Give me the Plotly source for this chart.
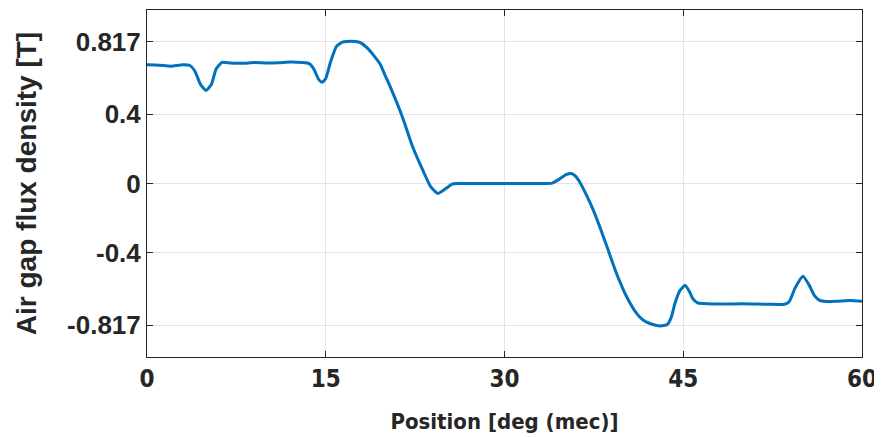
import plotly.graph_objects as go

position = [0, 1, 2, 3, 3.6, 4.0, 4.5, 4.95, 5.4, 5.8, 6.3, 7, 8, 9, 10, 11, 12, 13, 13.6, 14.0,
            14.4, 14.7, 15.0, 15.4, 15.9, 16.4, 16.8, 17.5, 17.9, 18.5, 19.0, 19.55, 20.0, 20.4,
            21.0, 21.5, 22.3, 23.2, 23.8, 24.4, 25.1, 25.6, 26.0, 27, 28, 29, 30, 31, 32, 33,
            34.0, 34.6, 35.2, 35.6, 36.0, 36.3, 36.9, 37.45, 38.0, 38.6, 39.4, 40.25, 41.1, 41.6,
            42.2, 43.05, 43.66, 44.0, 44.3, 44.7, 45.15, 45.5, 45.8, 46.2, 46.7, 48, 50, 52, 53.5,
            53.9, 54.4, 55.05, 55.6, 56.0, 56.4, 57.0, 58, 59, 60]
flux = [0.684, 0.682, 0.676, 0.685, 0.680, 0.65, 0.57, 0.536, 0.57, 0.66, 0.698, 0.695, 0.693,
        0.697, 0.695, 0.696, 0.700, 0.698, 0.692, 0.66, 0.60, 0.584, 0.605, 0.70, 0.79, 0.815,
        0.819, 0.818, 0.812, 0.78, 0.74, 0.69, 0.62, 0.56, 0.46, 0.37, 0.21, 0.068, -0.018,
        -0.057, -0.028, -0.004, 0.0, 0.0, 0.0, 0.0, 0.0, 0.0, 0.0, 0.0, 0.002, 0.025, 0.052,
        0.058, 0.04, 0.01, -0.07, -0.153, -0.25, -0.365, -0.519, -0.653, -0.75, -0.785, -0.807,
        -0.821, -0.813, -0.77, -0.692, -0.62, -0.586, -0.62, -0.663, -0.688, -0.692, -0.695,
        -0.693, -0.696, -0.696, -0.68, -0.60, -0.534, -0.59, -0.645, -0.672, -0.68, -0.678,
        -0.675, -0.678]

x_ticks = [0, 15, 30, 45, 60]
y_ticks = [-0.817, -0.4, 0, 0.4, 0.817]
y_tick_labels = ["-0.817", "-0.4", "0", "0.4", "0.817"]

fig = go.Figure()
fig.add_trace(go.Scatter(x=position, y=flux, mode="lines",
                         line=dict(color="#0072BD", width=3, shape="spline", smoothing=0.5),
                         showlegend=False))

axis_common = dict(showline=True, linecolor="#262626", linewidth=1, mirror="allticks",
                   ticks="inside", ticklen=6, tickcolor="#262626", automargin=False,
                   showgrid=True, gridcolor="#e3e3e3", gridwidth=1, zeroline=False)

narrow = "Liberation Sans Narrow, DejaVu Sans Condensed, Arial"
fig.update_xaxes(range=[0, 60], tickvals=x_ticks, ticktext=["<b>%d</b>" % t for t in x_ticks],
                 tickfont=dict(family=narrow, size=24, color="#262626"),
                 title=dict(text="<b>Position [deg (mec)]</b>", standoff=21,
                            font=dict(family=narrow, size=22, color="#262626")),
                 **axis_common)
fig.update_yaxes(range=[-1, 1], tickvals=y_ticks, ticktext=["<b>%s</b>" % t for t in y_tick_labels],
                 tickfont=dict(family="Liberation Sans, Arial", size=26, color="#262626"),
                 title=dict(text="<b>Air gap flux density [T]</b>", standoff=22,
                            font=dict(family="Liberation Sans, Arial", size=28, color="#262626")),
                 **axis_common)

# page body adds an 8px margin, so the figure is sized/offset to compensate
fig.update_layout(width=874, height=429, margin=dict(l=139, r=20, t=2, b=80),
                  plot_bgcolor="white", paper_bgcolor="white")

fig.write_html("out.html")
